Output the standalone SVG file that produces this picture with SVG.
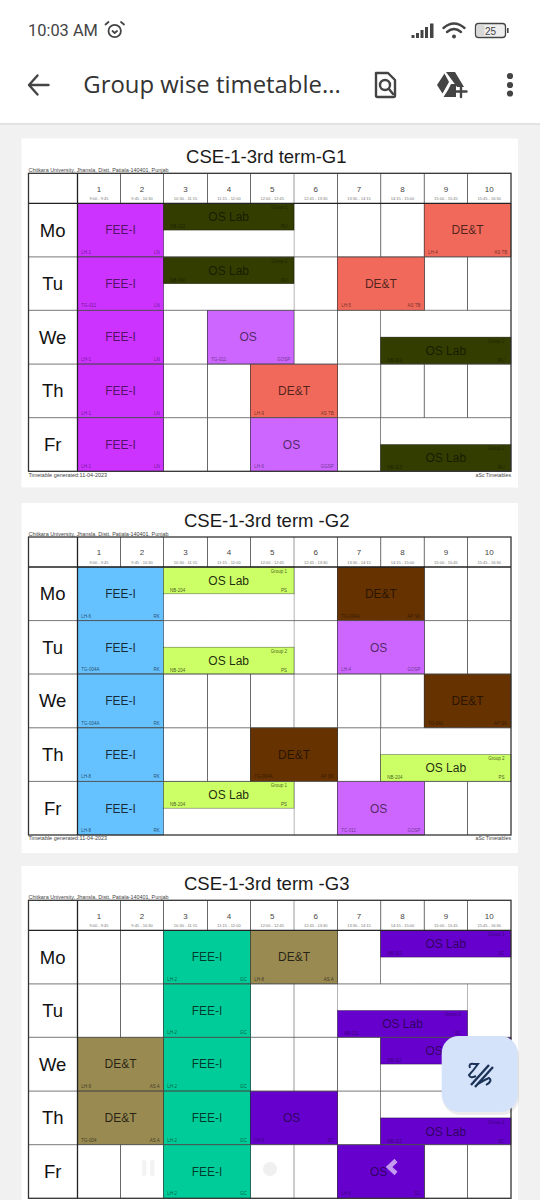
<svg xmlns="http://www.w3.org/2000/svg" width="540" height="1200" viewBox="0 0 540 1200">
<style>
text{font-family:"Liberation Sans",Arial,sans-serif}
.page{fill:#fff}
.title{font-size:18.5px;fill:#1a1a1a;text-anchor:middle}
.sub{font-size:5.2px;fill:#444}
.subr{font-size:5.2px;fill:#444;text-anchor:end}
.day{font-size:18.5px;fill:#111;text-anchor:middle}
.num{font-size:8px;fill:#444;text-anchor:middle}
.tm{font-size:4px;fill:#777;text-anchor:middle}
.v{stroke:#444;stroke-width:.8;fill:none}
.vg{stroke:#aaa;stroke-width:1.2;fill:none}
.h{stroke:#555;stroke-width:.8;fill:none}
.hk{stroke:#222;stroke-width:1.3;fill:none}
.box{fill:none;stroke:#333;stroke-width:1.3}
.w{fill:#fff}
.ev rect{stroke:#000;stroke-opacity:.55;stroke-width:.6}
.ev text{fill:#000}
.c{font-size:12px;text-anchor:middle}
.a{font-size:4.5px;opacity:.8}
.b{font-size:4.5px;text-anchor:end;opacity:.8}
.mag rect{fill:#cc33ff}.mag text{fill-opacity:.62}
.lil rect{fill:#cc66ff}.lil text{fill-opacity:.62}
.red rect{fill:#f0695a}.red text{fill-opacity:.68}
.dko rect{fill:#333d00}.dko text{fill-opacity:.55}
.blu rect{fill:#66c2ff}.blu text{fill-opacity:.78}
.lim rect{fill:#ccff66}.lim text{fill-opacity:.85}
.brn rect{fill:#663300}.brn text{fill-opacity:.62}
.grn rect{fill:#00cc99}.grn text{fill-opacity:.72}
.khk rect{fill:#998a52}.khk text{fill-opacity:.75}
.vio rect{fill:#6600cc}.vio text{fill-opacity:.55}
.ic{fill:#444}
.ico{fill:none;stroke:#444;stroke-width:2.4;stroke-linecap:round;stroke-linejoin:round}
</style>
<defs>
<g id="grid">
<rect class="w" x="28.5" y="0" width="482.5" height="298"/>
<path class="v" d="M120.5 0V298M163.5 0V298M207.5 0V298M250.5 0V298M337.5 0V298M380.7 0V298M424.3 0V298M467.5 0V298"/>
<path class="vg" d="M294 0V298"/>
</g>
<g id="frame">
<path class="h" d="M28.5 83.6H511M28.5 137H511M28.5 190.8H511M28.5 244.4H511"/>
<path class="hk" d="M28.5 30H511M77.5 0V298"/>
<rect class="box" x="28.5" y="0" width="482.5" height="298"/>
<text class="day" x="52.7" y="63.4">Mo</text>
<text class="day" x="52.7" y="117">Tu</text>
<text class="day" x="52.7" y="170.4">We</text>
<text class="day" x="52.7" y="224.2">Th</text>
<text class="day" x="52.7" y="277.8">Fr</text>
<text class="num" x="99" y="18.3">1</text><text class="tm" x="99" y="27">9:00 - 9:45</text>
<text class="num" x="142" y="18.3">2</text><text class="tm" x="142" y="27">9:45 - 10:30</text>
<text class="num" x="185.5" y="18.3">3</text><text class="tm" x="185.5" y="27">10:30 - 11:15</text>
<text class="num" x="229" y="18.3">4</text><text class="tm" x="229" y="27">11:15 - 12:00</text>
<text class="num" x="272.2" y="18.3">5</text><text class="tm" x="272.2" y="27">12:00 - 12:45</text>
<text class="num" x="315.7" y="18.3">6</text><text class="tm" x="315.7" y="27">12:45 - 13:30</text>
<text class="num" x="359" y="18.3">7</text><text class="tm" x="359" y="27">13:30 - 14:15</text>
<text class="num" x="402.5" y="18.3">8</text><text class="tm" x="402.5" y="27">14:15 - 15:00</text>
<text class="num" x="445.9" y="18.3">9</text><text class="tm" x="445.9" y="27">15:00 - 15:45</text>
<text class="num" x="489.2" y="18.3">10</text><text class="tm" x="489.2" y="27">15:45 - 16:30</text>
</g>
</defs>

<rect id="bg" x="0" y="0" width="540" height="1200" fill="#f1f1f1"/>
<rect id="appbar-shadow" x="0" y="122" width="540" height="3" fill="#e2e2e2"/>
<rect id="appbar" x="0" y="0" width="540" height="123" fill="#fff"/>

<g id="status-bar">
<text x="28" y="36" font-size="16.4" style="font-family:Roboto,sans-serif" fill="#444">10:03 AM</text>
<g class="ico" style="stroke-width:1.8"><circle cx="114.7" cy="31" r="6.2"/><path d="M105.5 24.5L108.5 22M124 24.5L121 22M112.5 31L114.7 33L117 31"/></g>
<g class="ic"><rect x="411.5" y="35" width="3" height="3"/><rect x="416" y="33" width="3" height="5"/><rect x="420.5" y="30" width="3" height="8"/><rect x="425" y="27" width="3" height="11"/><rect x="430" y="23.5" width="3.5" height="14.5"/></g>
<g class="ico"><path d="M443.5 28Q454 19 464.5 28M447 32Q454 26 461 32"/></g>
<circle class="ic" cx="454" cy="36.5" r="2"/>
<rect x="475.5" y="23.5" width="30" height="14" rx="3" fill="#eee" stroke="#444" stroke-width="1.3"/>
<rect x="476.5" y="24.5" width="8" height="12" rx="2" fill="#d8d8d8"/>
<rect class="ic" x="507" y="28" width="1.6" height="5"/>
<text x="490.5" y="35" font-size="10" text-anchor="middle" fill="#444">25</text>
</g>

<g id="app-toolbar">
<path class="ico" d="M29 85H48.5M37.5 75.5L29 85L37.5 94.5"/>
<text x="83.3" y="93" font-size="24" textLength="257.5" lengthAdjust="spacingAndGlyphs" style="font-family:'Open Sans',sans-serif" fill="#333">Group wise timetable...</text>
<path class="ico" d="M376 73H388L395 80V95.5Q395 97 393.5 97H377.5Q376 97 376 95.5Z"/>
<circle class="ico" cx="385" cy="85" r="5"/>
<path class="ico" d="M389 89L393 94"/>
<path class="ic" d="M446 72H455L464 87H457ZM444.5 73.5L449 82L442.5 93.5L437 85ZM448 90L451 84H456V97H443.5Z"/>
<path class="ico" d="M461 86V97M455.5 91.5H466.5"/>
<circle class="ic" cx="510" cy="76" r="3.1"/><circle class="ic" cx="510" cy="85" r="3.1"/><circle class="ic" cx="510" cy="93.5" r="3.1"/>
</g>

<!-- ========= G1 ========= -->
<g id="page-g1">
<rect class="page" x="21.5" y="138.5" width="496.5" height="349"/>
<text class="title" x="266.3" y="162.5">CSE-1-3rd term-G1</text>
<text class="sub" x="28.5" y="172" textLength="140" lengthAdjust="spacingAndGlyphs">Chitkara University, Jhansla, Distt. Patiala-140401, Punjab</text>
<text class="sub" x="28.5" y="476.5" textLength="78.5" lengthAdjust="spacingAndGlyphs">Timetable generated:11-04-2023</text>
<text class="subr" x="511" y="476.5">aSc Timetables</text>
<g transform="translate(0 173.3)">
<use href="#grid"/>
<rect class="w" x="163.5" y="30" width="130" height="53.6"/>
<rect class="w" x="163.5" y="83.6" width="130" height="53.4"/>
<rect class="w" x="381" y="137" width="130" height="53.8"/>
<rect class="w" x="381" y="244.4" width="130" height="53.6"/>
<g id="g1-mo-fee" class="ev mag"><rect x="77.5" y="30" width="86" height="53.6"/><text class="c" x="120.5" y="61.1">FEE-I</text><text class="a" x="81.3" y="80.6">LH-1</text><text class="b" x="159.7" y="80.6">LN</text></g>
<g id="g1-tu-fee" class="ev mag"><rect x="77.5" y="83.6" width="86" height="53.4"/><text class="c" x="120.5" y="114.7">FEE-I</text><text class="a" x="81.3" y="134">TG-011</text><text class="b" x="159.7" y="134">LN</text></g>
<g id="g1-we-fee" class="ev mag"><rect x="77.5" y="137" width="86" height="53.8"/><text class="c" x="120.5" y="168.1">FEE-I</text><text class="a" x="81.3" y="187.8">LH-1</text><text class="b" x="159.7" y="187.8">LN</text></g>
<g id="g1-th-fee" class="ev mag"><rect x="77.5" y="190.8" width="86" height="53.6"/><text class="c" x="120.5" y="221.9">FEE-I</text><text class="a" x="81.3" y="241.4">LH-1</text><text class="b" x="159.7" y="241.4">LN</text></g>
<g id="g1-fr-fee" class="ev mag"><rect x="77.5" y="244.4" width="86" height="53.6"/><text class="c" x="120.5" y="275.5">FEE-I</text><text class="a" x="81.3" y="295">LH-1</text><text class="b" x="159.7" y="295">LN</text></g>
<g id="g1-mo-lab" class="ev dko"><rect x="163.5" y="30" width="130.5" height="26.8"/><text class="c" x="228.7" y="47.7">OS Lab</text><text class="a" x="170" y="54.8">NB-113</text><text class="b" x="287.5" y="35.7">Group 1</text><text class="b" x="287.5" y="54.8">RU</text></g>
<g id="g1-tu-lab" class="ev dko"><rect x="163.5" y="83.6" width="130.5" height="26.8"/><text class="c" x="228.7" y="101.3">OS Lab</text><text class="a" x="170" y="108.4">NB-040</text><text class="b" x="287.5" y="89.3">Group 2</text><text class="b" x="287.5" y="108.4">RU</text></g>
<g id="g1-we-os" class="ev lil"><rect x="207.5" y="137" width="86.5" height="53.8"/><text class="c" x="248.2" y="168.1">OS</text><text class="a" x="211.3" y="187.8">TG-011</text><text class="b" x="290.2" y="187.8">GOSP</text></g>
<g id="g1-fr-os" class="ev lil"><rect x="250.5" y="244.4" width="87" height="53.6"/><text class="c" x="291.5" y="275.5">OS</text><text class="a" x="254.3" y="295">LH-6</text><text class="b" x="333.7" y="295">GGSP</text></g>
<g id="g1-mo-det" class="ev red"><rect x="424.3" y="30" width="86.7" height="53.6"/><text class="c" x="467.6" y="61.1">DE&amp;T</text><text class="a" x="428.1" y="80.6">LH-4</text><text class="b" x="507.2" y="80.6">AS TB</text></g>
<g id="g1-tu-det" class="ev red"><rect x="337.5" y="83.6" width="86.8" height="53.4"/><text class="c" x="380.9" y="114.7">DE&amp;T</text><text class="a" x="341.3" y="134">LH-5</text><text class="b" x="420.5" y="134">AS TB</text></g>
<g id="g1-th-det" class="ev red"><rect x="250.5" y="190.8" width="87" height="53.6"/><text class="c" x="294" y="221.9">DE&amp;T</text><text class="a" x="254.3" y="241.4">LH-9</text><text class="b" x="333.7" y="241.4">AS TB</text></g>
<g id="g1-we-lab" class="ev dko"><rect x="380.7" y="163.8" width="130.3" height="27"/><text class="c" x="445.8" y="181.5">OS Lab</text><text class="a" x="387.2" y="188.8">NB-113</text><text class="b" x="504.5" y="169.5">Group 2</text><text class="b" x="504.5" y="188.8">RU</text></g>
<g id="g1-fr-lab" class="ev dko"><rect x="380.7" y="271.2" width="130.3" height="26.8"/><text class="c" x="445.8" y="288.9">OS Lab</text><text class="a" x="387.2" y="296">NB-113</text><text class="b" x="504.5" y="276.9">Group 2</text><text class="b" x="504.5" y="296">RU</text></g>
<use href="#frame"/>
</g>
</g>

<!-- ========= G2 ========= -->
<g id="page-g2">
<rect class="page" x="21.5" y="503" width="496.5" height="350"/>
<text class="title" x="266.7" y="526.7">CSE-1-3rd term -G2</text>
<text class="sub" x="28.5" y="535.5" textLength="140" lengthAdjust="spacingAndGlyphs">Chitkara University, Jhansla, Distt. Patiala-140401, Punjab</text>
<text class="sub" x="28.5" y="839.5" textLength="78.5" lengthAdjust="spacingAndGlyphs">Timetable generated:11-04-2023</text>
<text class="subr" x="511" y="839.5">aSc Timetables</text>
<g transform="translate(0 537)">
<use href="#grid"/>
<rect class="w" x="163.5" y="30" width="130" height="53.6"/>
<rect class="w" x="163.5" y="83.6" width="130" height="53.4"/>
<rect class="w" x="381" y="190.8" width="130" height="53.6"/>
<rect class="w" x="163.5" y="244.4" width="130" height="53.6"/>
<g id="g2-mo-fee" class="ev blu"><rect x="77.5" y="30" width="86" height="53.6"/><text class="c" x="120.5" y="61.1">FEE-I</text><text class="a" x="81.3" y="80.6">LH-6</text><text class="b" x="159.7" y="80.6">RK</text></g>
<g id="g2-tu-fee" class="ev blu"><rect x="77.5" y="83.6" width="86" height="53.4"/><text class="c" x="120.5" y="114.7">FEE-I</text><text class="a" x="81.3" y="134">TG-004A</text><text class="b" x="159.7" y="134">RK</text></g>
<g id="g2-we-fee" class="ev blu"><rect x="77.5" y="137" width="86" height="53.8"/><text class="c" x="120.5" y="168.1">FEE-I</text><text class="a" x="81.3" y="187.8">TG-004A</text><text class="b" x="159.7" y="187.8">RK</text></g>
<g id="g2-th-fee" class="ev blu"><rect x="77.5" y="190.8" width="86" height="53.6"/><text class="c" x="120.5" y="221.9">FEE-I</text><text class="a" x="81.3" y="241.4">LH-8</text><text class="b" x="159.7" y="241.4">RK</text></g>
<g id="g2-fr-fee" class="ev blu"><rect x="77.5" y="244.4" width="86" height="53.6"/><text class="c" x="120.5" y="275.5">FEE-I</text><text class="a" x="81.3" y="295">LH-8</text><text class="b" x="159.7" y="295">RK</text></g>
<g id="g2-mo-lab" class="ev lim"><rect x="163.5" y="30" width="130.5" height="26.8"/><text class="c" x="228.7" y="47.7">OS Lab</text><text class="a" x="170" y="54.8">NB-204</text><text class="b" x="287" y="35.7">Group 1</text><text class="b" x="287" y="54.8">PS</text></g>
<g id="g2-tu-lab" class="ev lim"><rect x="163.5" y="110.2" width="130.5" height="26.8"/><text class="c" x="228.7" y="127.9">OS Lab</text><text class="a" x="170" y="135">NB-204</text><text class="b" x="287" y="115.9">Group 2</text><text class="b" x="287" y="135">PS</text></g>
<g id="g2-fr-lab" class="ev lim"><rect x="163.5" y="244.4" width="130.5" height="26.8"/><text class="c" x="228.7" y="262.1">OS Lab</text><text class="a" x="170" y="269.2">NB-204</text><text class="b" x="287" y="250.1">Group 1</text><text class="b" x="287" y="269.2">PS</text></g>
<g id="g2-th-lab" class="ev lim"><rect x="380.7" y="217.6" width="130.3" height="26.8"/><text class="c" x="445.8" y="235.3">OS Lab</text><text class="a" x="387.2" y="242.4">NB-204</text><text class="b" x="504.5" y="223.3">Group 2</text><text class="b" x="504.5" y="242.4">PS</text></g>
<g id="g2-mo-det" class="ev brn"><rect x="337.5" y="30" width="86.8" height="53.6"/><text class="c" x="380.9" y="61.1">DE&amp;T</text><text class="a" x="341.3" y="80.6">TG-004A</text><text class="b" x="420.5" y="80.6">AP SK</text></g>
<g id="g2-we-det" class="ev brn"><rect x="424.3" y="137" width="86.7" height="53.8"/><text class="c" x="467.6" y="168.1">DE&amp;T</text><text class="a" x="428.1" y="187.8">TG-041</text><text class="b" x="507.2" y="187.8">AP SK</text></g>
<g id="g2-th-det" class="ev brn"><rect x="250.5" y="190.8" width="87" height="53.6"/><text class="c" x="294" y="221.9">DE&amp;T</text><text class="a" x="254.3" y="241.4">TG-004A</text><text class="b" x="333.7" y="241.4">AP SK</text></g>
<g id="g2-tu-os" class="ev lil"><rect x="337.5" y="83.6" width="86.8" height="53.4"/><text class="c" x="378.7" y="114.7">OS</text><text class="a" x="341.3" y="134">LH-4</text><text class="b" x="420.5" y="134">GOSP</text></g>
<g id="g2-fr-os" class="ev lil"><rect x="337.5" y="244.4" width="86.8" height="53.6"/><text class="c" x="378.7" y="275.5">OS</text><text class="a" x="341.3" y="295">TC-011</text><text class="b" x="420.5" y="295">GOSP</text></g>
<use href="#frame"/>
</g>
</g>

<!-- ========= G3 ========= -->
<g id="page-g3">
<rect class="page" x="21.5" y="866" width="496.5" height="334"/>
<text class="title" x="266.7" y="890">CSE-1-3rd term -G3</text>
<text class="sub" x="28.5" y="899" textLength="140" lengthAdjust="spacingAndGlyphs">Chitkara University, Jhansla, Distt. Patiala-140401, Punjab</text>
<g transform="translate(0 900.3)">
<use href="#grid"/>
<rect class="w" x="381" y="30" width="130" height="53.6"/>
<rect class="w" x="337.5" y="83.6" width="130" height="53.4"/>
<rect class="w" x="381" y="137" width="130" height="53.8"/>
<rect class="w" x="381" y="190.8" width="130" height="53.6"/>
<g id="g3-mo-fee" class="ev grn"><rect x="163.5" y="30" width="87" height="53.6"/><text class="c" x="207" y="61.1">FEE-I</text><text class="a" x="167.3" y="80.6">LH-2</text><text class="b" x="246.7" y="80.6">GC</text></g>
<g id="g3-tu-fee" class="ev grn"><rect x="163.5" y="83.6" width="87" height="53.4"/><text class="c" x="207" y="114.7">FEE-I</text><text class="a" x="167.3" y="134">LH-2</text><text class="b" x="246.7" y="134">GC</text></g>
<g id="g3-we-fee" class="ev grn"><rect x="163.5" y="137" width="87" height="53.8"/><text class="c" x="207" y="168.1">FEE-I</text><text class="a" x="167.3" y="187.8">LH-2</text><text class="b" x="246.7" y="187.8">GC</text></g>
<g id="g3-th-fee" class="ev grn"><rect x="163.5" y="190.8" width="87" height="53.6"/><text class="c" x="207" y="221.9">FEE-I</text><text class="a" x="167.3" y="241.4">LH-2</text><text class="b" x="246.7" y="241.4">GC</text></g>
<g id="g3-fr-fee" class="ev grn"><rect x="163.5" y="244.4" width="87" height="53.6"/><text class="c" x="207" y="275.5">FEE-I</text><text class="a" x="167.3" y="295">LH-2</text><text class="b" x="246.7" y="295">GC</text></g>
<g id="g3-mo-det" class="ev khk"><rect x="250.5" y="30" width="87" height="53.6"/><text class="c" x="294" y="61.1">DE&amp;T</text><text class="a" x="254.3" y="80.6">LH-8</text><text class="b" x="333.7" y="80.6">AS A</text></g>
<g id="g3-we-det" class="ev khk"><rect x="77.5" y="137" width="86" height="53.8"/><text class="c" x="120.5" y="168.1">DE&amp;T</text><text class="a" x="81.3" y="187.8">LH-9</text><text class="b" x="159.7" y="187.8">AS A</text></g>
<g id="g3-th-det" class="ev khk"><rect x="77.5" y="190.8" width="86" height="53.6"/><text class="c" x="120.5" y="221.9">DE&amp;T</text><text class="a" x="81.3" y="241.4">TG-004</text><text class="b" x="159.7" y="241.4">AS A</text></g>
<g id="g3-mo-lab" class="ev vio"><rect x="380.7" y="30" width="130.3" height="26.8"/><text class="c" x="445.8" y="47.7">OS Lab</text><text class="a" x="387.2" y="54.8">NB-113</text><text class="b" x="504.5" y="35.7">Group 1</text><text class="b" x="504.5" y="54.8">SC</text></g>
<g id="g3-tu-lab" class="ev vio"><rect x="337.5" y="110.2" width="130" height="26.8"/><text class="c" x="402.5" y="127.9">OS Lab</text><text class="a" x="344" y="135">NB-111</text><text class="b" x="461" y="115.9">Group 2</text><text class="b" x="461" y="135">SC</text></g>
<g id="g3-we-lab" class="ev vio"><rect x="380.7" y="137" width="130.3" height="26.8"/><text class="c" x="445.8" y="154.7">OS Lab</text><text class="a" x="387.2" y="161.8">NB-111</text><text class="b" x="504.5" y="142.7">Group 1</text><text class="b" x="504.5" y="161.8">SC</text></g>
<g id="g3-th-lab" class="ev vio"><rect x="380.7" y="217.6" width="130.3" height="26.8"/><text class="c" x="445.8" y="235.3">OS Lab</text><text class="a" x="387.2" y="242.4">NB-113</text><text class="b" x="504.5" y="223.3">Group 2</text><text class="b" x="504.5" y="242.4">SC</text></g>
<g id="g3-th-os" class="ev vio"><rect x="250.5" y="190.8" width="87" height="53.6"/><text class="c" x="291.7" y="221.9">OS</text><text class="a" x="254.3" y="241.4">LH-5</text><text class="b" x="333.7" y="241.4">SC</text></g>
<g id="g3-fr-os" class="ev vio"><rect x="337.5" y="244.4" width="86.8" height="53.6"/><text class="c" x="378.7" y="275.5">OS</text><text class="a" x="341.3" y="295">LH-6</text><text class="b" x="420.5" y="295">SC</text></g>
<use href="#frame"/>
</g>
</g>

<g id="viewer-overlays">
<rect x="142" y="1160" width="4.5" height="16" rx="2" fill="#f3f3f3"/><rect x="150" y="1160" width="4.5" height="16" rx="2" fill="#f3f3f3"/>
<circle cx="270" cy="1169" r="7" fill="#f0f0f0"/>
<path d="M396 1160.5L389 1167L396 1173.5" fill="none" stroke="#c49af0" stroke-width="4.5"/>
</g>

<g id="fab">
<rect x="442" y="1037" width="76" height="76" rx="17" fill="#000" fill-opacity=".08" transform="translate(1 2)"/>
<rect x="441.7" y="1036" width="76" height="76" rx="17" fill="#d5e3fa"/>
<path d="M470 1068Q468 1063 474 1064L478 1064Q473 1071 469 1075Q470 1079 476 1076" fill="none" stroke="#1b3358" stroke-width="2"/>
<path d="M471 1085L489 1065M475 1087L493 1067" stroke="#1b3358" stroke-width="2.4" fill="none"/>
<path d="M486 1085Q493 1081 489 1078Q484 1080 478 1084" fill="none" stroke="#1b3358" stroke-width="2"/>
</g>
</svg>
